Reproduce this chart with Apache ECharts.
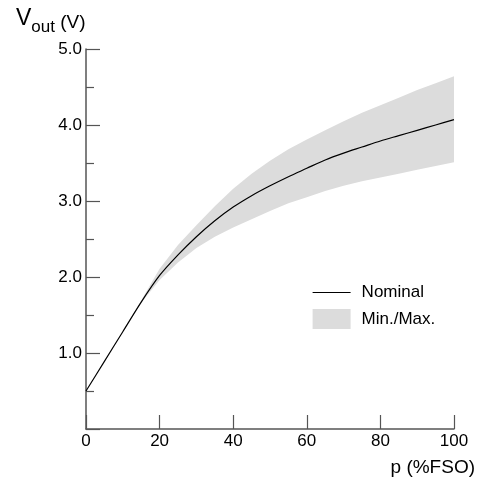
<!DOCTYPE html>
<html><head><meta charset="utf-8">
<script src="https://cdn.jsdelivr.net/npm/echarts@6/dist/echarts.min.js"></script>
<style>html,body{margin:0;padding:0;background:#fff}#c{width:478px;height:485px}</style>
</head><body><div id="c"></div>
<script>
const pValues = [0, 5, 10, 15, 20, 25, 30, 35, 40, 45, 50, 55, 60, 65, 70, 75, 80, 85, 90, 95, 100];
const nominal = [0.50, 0.89, 1.28, 1.67, 2.02, 2.29, 2.53, 2.74, 2.92, 3.07, 3.20, 3.32, 3.43, 3.54, 3.63, 3.71, 3.79, 3.86, 3.93, 4.00, 4.07];
const maxVals = [0.50, 0.89, 1.28, 1.69, 2.11, 2.42, 2.68, 2.93, 3.16, 3.36, 3.53, 3.68, 3.81, 3.93, 4.05, 4.16, 4.26, 4.36, 4.46, 4.55, 4.64];
const minVals = [0.50, 0.89, 1.28, 1.66, 1.96, 2.19, 2.38, 2.53, 2.65, 2.76, 2.87, 2.97, 3.05, 3.13, 3.20, 3.26, 3.31, 3.36, 3.41, 3.46, 3.51];
const xTicks = [0, 20, 40, 60, 80, 100];
const yTicks = [1.0, 2.0, 3.0, 4.0, 5.0];

const FONT = 'Liberation Sans, Arial, sans-serif';
const axisColor = '#555';
const bandColor = '#dcdcdc';
const chart = echarts.init(document.getElementById('c'));
chart.setOption({
  animation: false,
  backgroundColor: '#fff',
  textStyle: { fontFamily: FONT },
  title: {
    left: 11, top: -1,
    text: '{v|V}{s|out}{n| (V)}',
    textStyle: {
      fontWeight: 'normal',
      rich: {
        v: { fontSize: 23, fontWeight: 'normal', fontFamily: FONT, color: '#000', lineHeight: 30, verticalAlign: 'bottom', padding:[0,0,4,0] },
        s: { fontSize: 17, fontWeight: 'normal', fontFamily: FONT, color: '#000', lineHeight: 30, verticalAlign: 'bottom', padding:[0,0,-2,0] },
        n: { fontSize: 19, fontWeight: 'normal', fontFamily: FONT, color: '#000', lineHeight: 30, verticalAlign: 'bottom', padding:[0,0,2,0] }
      }
    }
  },
  grid: { left: 86, right: 23, top: 49, bottom: 56 },
  legend: {
    orient: 'vertical', left: 312, top: 284, padding: 0,
    itemWidth: 38, itemHeight: 20, itemGap: 8,
    textStyle: { fontSize: 17, color: '#000', fontFamily: FONT, padding: [0, 0, 0, 6] },
    data: [
      { name: 'Nominal', itemStyle: { color: 'rgba(0,0,0,0)', borderWidth: 0 }, lineStyle: { color: '#000', width: 1.2 } },
      { name: 'Min./Max.', icon: 'rect', itemStyle: { color: bandColor, borderWidth: 0 } }
    ]
  },
  xAxis: {
    type: 'value', min: 0, max: 100, interval: 20,
    name: 'p (%FSO)', nameLocation: 'end', nameGap: 21,
    nameTextStyle: { fontSize: 19, color: '#000', fontFamily: FONT, align: 'right', verticalAlign: 'top', padding: [29, 0, 0, 0] },
    axisLine: { lineStyle: { color: axisColor, width: 1.5 } },
    axisTick: { inside: true, length: 14, lineStyle: { color: axisColor, width: 1.2 } },
    axisLabel: { fontSize: 17, color: '#000', margin: 4, fontFamily: FONT,
      formatter: v => xTicks.includes(v) ? String(v) : '' },
    splitLine: { show: false }
  },
  yAxis: {
    type: 'value', min: 0, max: 5, interval: 1,
    axisLine: { show: true, lineStyle: { color: axisColor, width: 1.5 } },
    axisTick: { show: true, inside: true, length: 14, lineStyle: { color: axisColor, width: 1.2 } },
    minorTick: { show: true, splitNumber: 2, length: 8, lineStyle: { color: axisColor, width: 1.2 } },
    axisLabel: { fontSize: 17, color: '#000', margin: 4, fontFamily: FONT,
      formatter: v => yTicks.some(t => Math.abs(t - v) < 1e-9) ? v.toFixed(1) : '' },
    splitLine: { show: false }
  },
  series: [
    { name: 'Min./Max.', type: 'custom', silent: true, z: 1, color: bandColor,
      data: [[0, 0]],
      renderItem: function (params, api) {
        const upper = pValues.map((p, i) => api.coord([p, maxVals[i]]));
        const lower = pValues.map((p, i) => api.coord([p, minVals[i]])).reverse();
        return {
          type: 'polygon',
          shape: { points: upper.concat(lower) },
          style: { fill: bandColor, stroke: 'none' }
        };
      }
    },
    { name: 'Nominal', type: 'line', symbol: 'none', smooth: 0.3, color: '#000',
      lineStyle: { color: '#000', width: 1.2 }, data: pValues.map((p, i) => [p, nominal[i]]), z: 3 }
  ]
});
</script></body></html>
